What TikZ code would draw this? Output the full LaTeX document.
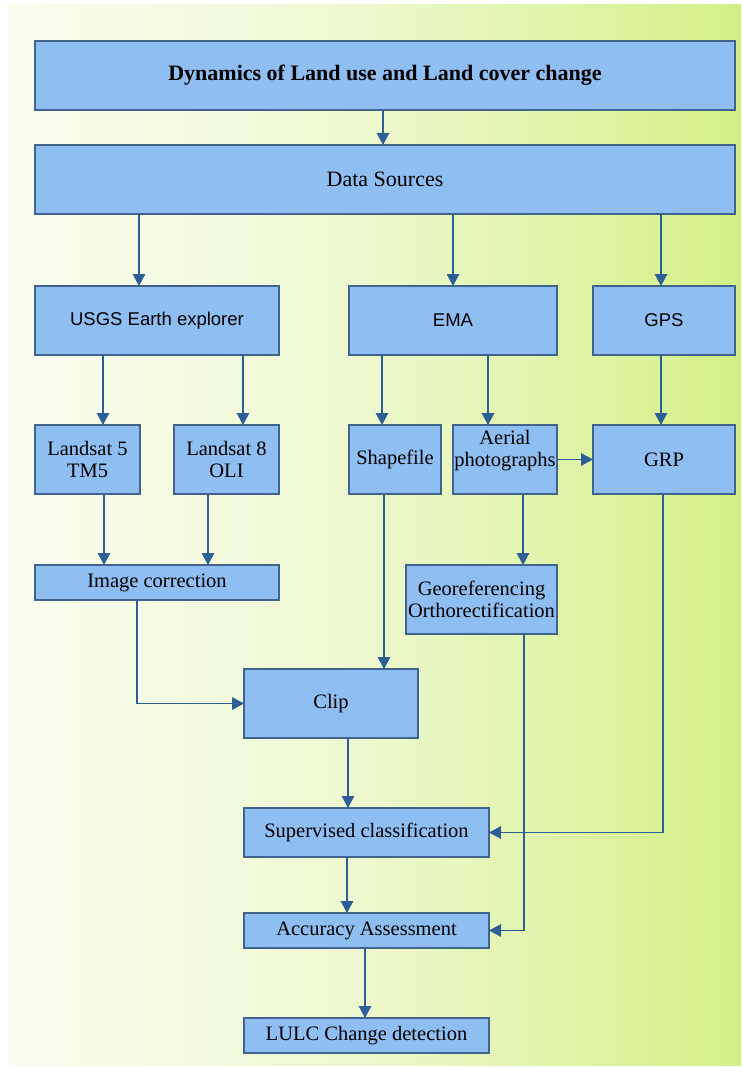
\documentclass[tikz,border=0pt]{standalone}
\usepackage{fontspec}
\setmainfont{Liberation Serif}
\newfontfamily\arialfont{Liberation Sans}
\usetikzlibrary{arrows.meta}
\definecolor{boxfill}{RGB}{143,190,242}
\definecolor{boxline}{RGB}{65,100,140}
\definecolor{arrowc}{RGB}{45,95,150}
\definecolor{bga}{RGB}{250,253,241}
\definecolor{bgb}{RGB}{237,248,206}
\definecolor{bgc}{RGB}{211,240,134}
\begin{document}
\begin{tikzpicture}[x=1pt,y=-1pt,
  box/.style={draw=boxline,fill=boxfill,line width=1.3pt,inner sep=0pt,outer sep=0pt,align=center,font=\rmfamily\fontsize{20.5}{22}\selectfont},
  sansbox/.style={box,font=\arialfont\fontsize{18.5}{22}\selectfont},
  conn/.style={draw=arrowc,line width=1.4pt,-{Triangle[length=12pt,width=12.5pt]}}]
\useasboundingbox (0,0) rectangle (741,1067);
\fill[white] (0,0) rectangle (741,1067);
\shade[left color=bga,right color=bgb] (8,5) rectangle (370.5,1065);
\shade[left color=bgb,right color=bgc] (370,5) rectangle (741,1065);

\node[box,minimum width=700pt,minimum height=69pt,font=\rmfamily\bfseries\fontsize{22}{24}\selectfont] (title) at (385,75.5) {Dynamics of Land use and Land cover change};
\node[box,minimum width=700pt,minimum height=69pt,font=\rmfamily\fontsize{22}{24}\selectfont] (data) at (385,179.5) {Data Sources};
\node[sansbox,minimum width=244pt,minimum height=69pt] (usgs) at (157,320.5) {USGS Earth explorer};
\node[sansbox,minimum width=208pt,minimum height=69pt] (ema) at (453,320.5) {EMA};
\node[sansbox,minimum width=142pt,minimum height=69pt] (gps) at (664,320.5) {GPS};
\node[box,minimum width=105pt,minimum height=69pt] (ls5) at (87.5,459.5) {Landsat 5\\TM5};
\node[box,minimum width=105pt,minimum height=69pt] (ls8) at (226.5,459.5) {Landsat 8\\OLI};
\node[box,minimum width=92pt,minimum height=69pt] (shp) at (395,459.5) {Shapefile};
\node[box,minimum width=104pt,minimum height=69pt] (aer) at (505,459.5) {Aerial\\photographs\\\rule{0pt}{1pt}};
\node[box,minimum width=142pt,minimum height=69pt] (grp) at (664,459.5) {GRP};
\node[box,minimum width=244pt,minimum height=35pt] (imc) at (157,582.5) {Image correction};
\node[box,minimum width=151pt,minimum height=69pt] (geo) at (481.5,599.5) {Georeferencing\\Orthorectification};
\node[box,minimum width=174pt,minimum height=69pt] (clip) at (331,703.5) {Clip};
\node[box,minimum width=245pt,minimum height=49pt] (sup) at (366.5,832.5) {Supervised classification};
\node[box,minimum width=245pt,minimum height=35pt] (acc) at (366.5,930.5) {Accuracy Assessment};
\node[box,minimum width=245pt,minimum height=35pt] (lulc) at (366.5,1035.5) {LULC Change detection};

\draw[conn] ([xshift=-2pt]title.south) -- ([xshift=-2pt]data.north);
\draw[conn] ([xshift=-18pt]usgs.north |- data.south) -- ([xshift=-18pt]usgs.north);
\draw[conn] (ema.north |- data.south) -- (ema.north);
\draw[conn] ([xshift=-3pt]gps.north |- data.south) -- ([xshift=-3pt]gps.north);
\draw[conn] ([xshift=15.5pt]ls5.north |- usgs.south) -- ([xshift=15.5pt]ls5.north);
\draw[conn] ([xshift=16.5pt]ls8.north |- usgs.south) -- ([xshift=16.5pt]ls8.north);
\draw[conn] ([xshift=-13pt]shp.north |- ema.south) -- ([xshift=-13pt]shp.north);
\draw[conn] ([xshift=-17pt]aer.north |- ema.south) -- ([xshift=-17pt]aer.north);
\draw[conn] ([xshift=-3pt]grp.north |- gps.south) -- ([xshift=-3pt]grp.north);
\draw[conn] (aer.east) -- (grp.west);
\draw[conn] ([xshift=16.5pt]ls5.south) -- ([xshift=16.5pt]ls5.south |- imc.north);
\draw[conn] ([xshift=-18.5pt]ls8.south) -- ([xshift=-18.5pt]ls8.south |- imc.north);
\draw[conn] ([xshift=18pt]aer.south) -- ([xshift=18pt]aer.south |- geo.north);
\draw[conn] ([xshift=-20pt]imc.south) |- (clip.west);
\draw[conn] ([xshift=-11pt]shp.south) -- ([xshift=-11pt]shp.south |- clip.north);
\draw[conn] ([xshift=42.5pt]geo.south) |- (acc.east);
\draw[conn] ([xshift=-1pt]grp.south) |- (sup.east);
\draw[conn] ([xshift=17pt]clip.south) -- ([xshift=17pt]clip.south |- sup.north);
\draw[conn] ([xshift=-19.5pt]sup.south) -- ([xshift=-19.5pt]acc.north);
\draw[conn] ([xshift=-1.5pt]acc.south) -- ([xshift=-1.5pt]lulc.north);
\end{tikzpicture}
\end{document}
